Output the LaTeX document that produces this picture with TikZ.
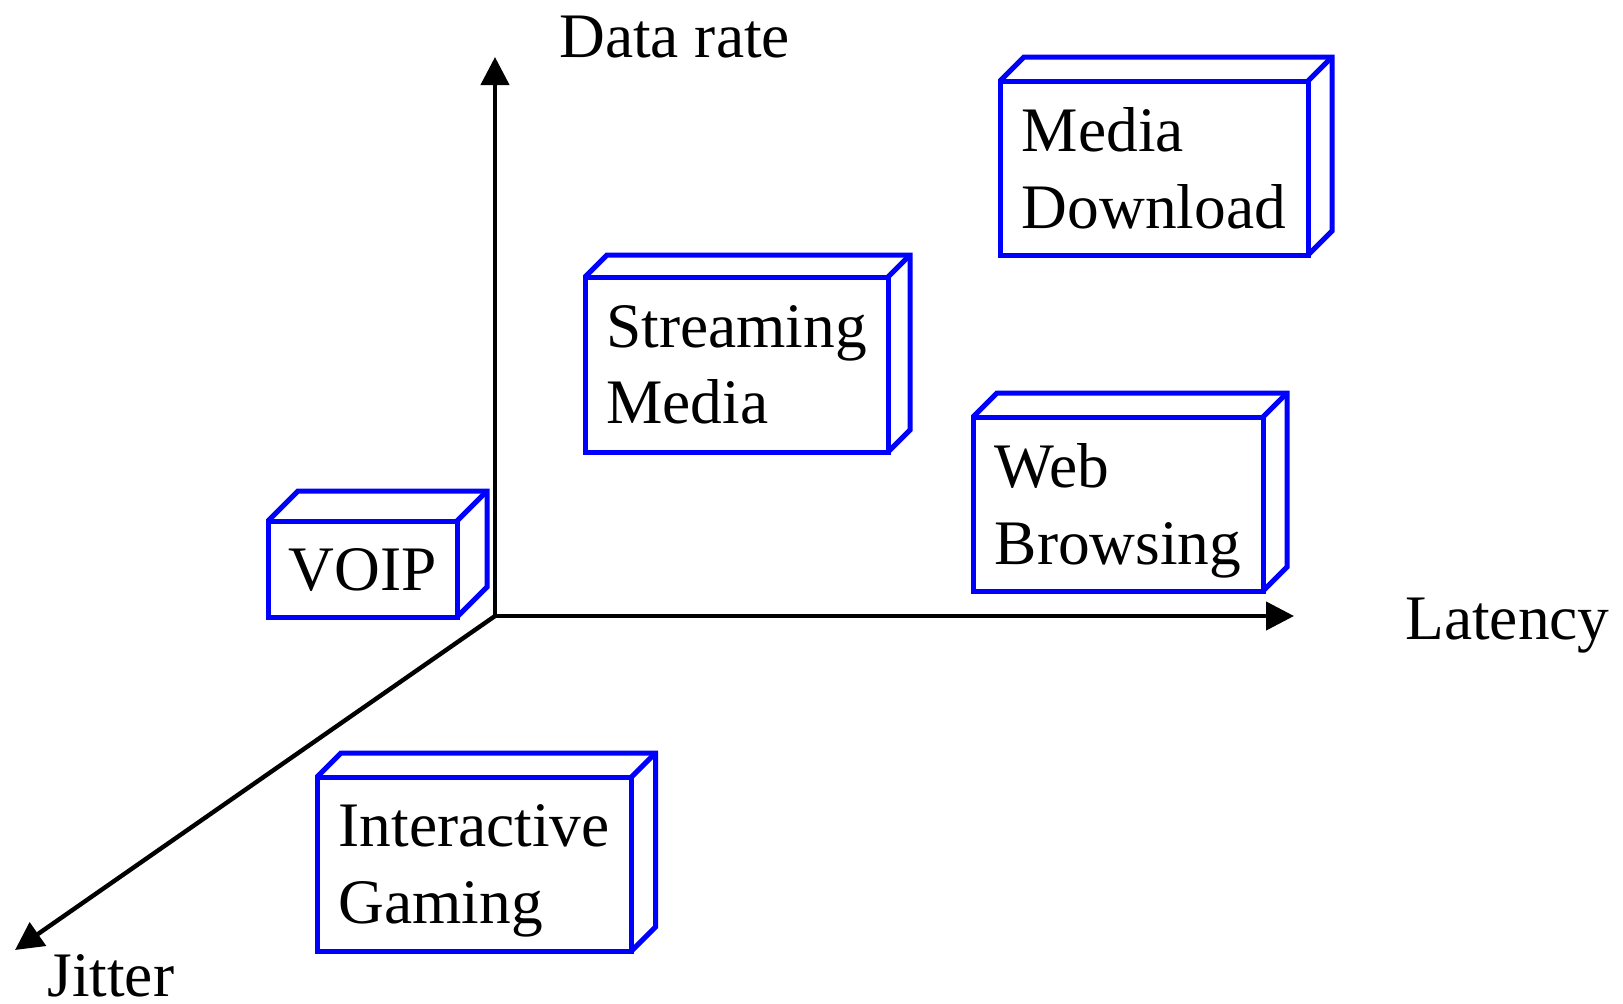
\documentclass[tikz,border=0pt]{standalone}
\usepackage{fontspec}
\setmainfont{Liberation Serif}
\usetikzlibrary{arrows.meta}
\newcommand{\bigfont}{\fontsize{31.7pt}{38.3pt}\selectfont}
\newcommand{\threeD}[2]{%
  \draw[boxline] (#1.north west) -- ++(#2,-#2) -| ([shift={(#2,-#2)}]#1.south east) -- (#1.south east);
  \draw[boxline] (#1.north east) -- ++(#2,-#2);}
\tikzset{
  boxline/.style={draw=blue, line width=2.5pt},
  qbox/.style={boxline, align=left, inner sep=0pt, outer sep=0pt, font=\bigfont, text depth=0pt},
  axis/.style={draw=black, line width=2.2pt, -{Triangle[length=14pt,width=14pt]}},
  lbl/.style={font=\bigfont, inner sep=0pt, anchor=base west}
}
\begin{document}
\begin{tikzpicture}[x=0.5pt,y=-0.5pt]
\useasboundingbox (0,0) rectangle (1623,1003);
% axes
\coordinate (O) at (495,616);
\coordinate (up) at (495,57);
\coordinate (right) at (1294,616);
\coordinate (jit) at (15,950);
\draw[axis] (O) -- (up);
\draw[axis] (O) -- (right);
\draw[axis] (O) -- (jit);
\node[lbl] (ldr) at (559,57) {Data rate};
\node[lbl] (llat) at (1405,639) {Latency};
\node[lbl] (ljit) at (47,996) {Jitter};
% boxes
\node[qbox, minimum width=94.5pt, minimum height=48pt] (voip) at (362.5,569) {VOIP};
\threeD{voip}{30}
\node[qbox, minimum width=151.5pt, minimum height=87.5pt] (stream) at (736.5,364.5) {Streaming\\Media};
\threeD{stream}{22}
\node[qbox, minimum width=154pt, minimum height=87pt] (media) at (1154,168) {Media\\Download};
\threeD{media}{24}
\node[qbox, minimum width=145pt, minimum height=87pt] (web) at (1118,504) {Web\\Browsing};
\threeD{web}{24}
\node[qbox, minimum width=157.25pt, minimum height=87pt] (game) at (474.25,864) {Interactive\\Gaming};
\threeD{game}{24}
\end{tikzpicture}
\end{document}
